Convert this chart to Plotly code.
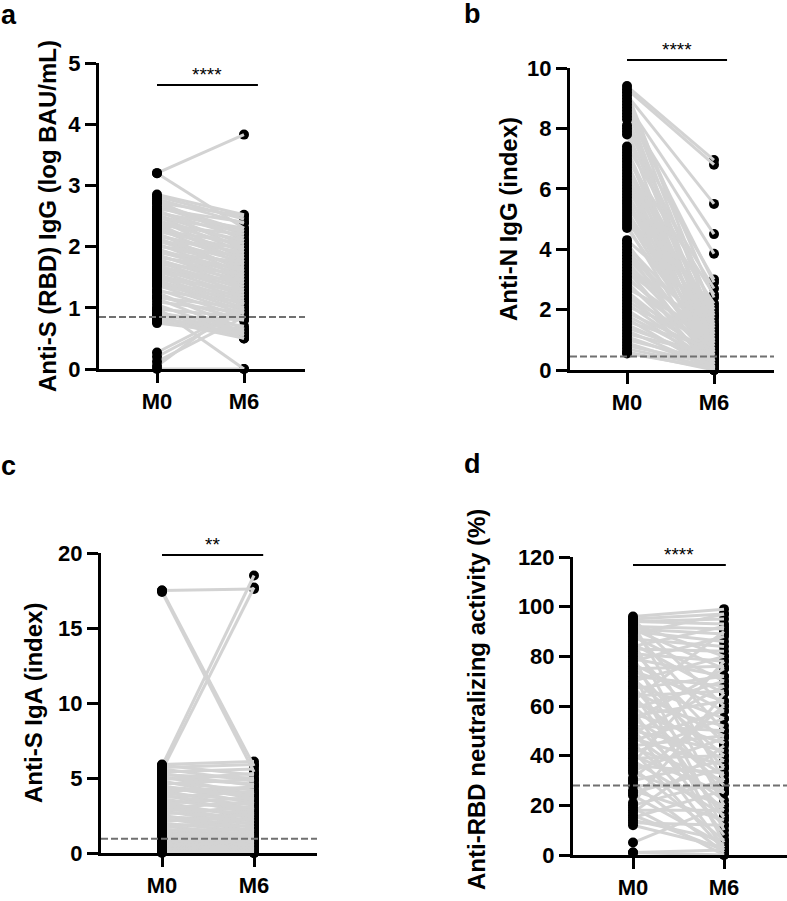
import plotly.graph_objects as go

W, H = 787, 901
FONT = "Liberation Sans, Arial, sans-serif"

categories = ["M0", "M6"]

# Panel a: Anti-S (RBD) IgG (log BAU/mL)
a_m0 = [3.2, 3.2, 2.85, 2.82, 2.78, 2.75, 2.72, 2.7, 2.66, 2.62, 2.6, 2.58, 2.55, 2.52, 2.5, 2.47, 2.45, 2.42, 2.4, 2.37,
        2.35, 2.32, 2.3, 2.27, 2.25, 2.22, 2.2, 2.17, 2.15, 2.12, 2.1, 2.07, 2.05, 2.02, 2.0, 1.97, 1.95, 1.92, 1.9, 1.87,
        1.85, 1.82, 1.8, 1.77, 1.75, 1.72, 1.7, 1.67, 1.65, 1.62, 1.6, 1.57, 1.55, 1.52, 1.5, 1.47, 1.45, 1.42, 1.4, 1.37,
        1.35, 1.3, 1.27, 1.25, 1.2, 1.17, 1.15, 1.1, 1.05, 1.0, 0.98, 0.95, 0.92, 0.9, 0.88, 0.85, 0.82, 0.8, 0.77, 0.75,
        0.27, 0.2, 0.12, 0.05, 0.0]
a_m6 = [3.83, 2.3, 2.52, 2.45, 2.38, 2.1, 2.5, 2.25, 2.2, 2.4, 1.95, 2.15, 2.3, 2.05, 1.9, 2.25, 1.8, 2.1, 2.0, 1.75,
        2.2, 1.85, 1.7, 2.05, 1.95, 1.6, 1.8, 1.9, 1.55, 1.75, 1.65, 2.0, 1.5, 1.7, 1.85, 1.45, 1.6, 1.55, 1.75, 1.4,
        1.5, 1.65, 1.35, 1.45, 1.3, 1.55, 1.25, 1.4, 1.2, 1.35, 1.15, 1.45, 1.1, 1.25, 1.05, 1.3, 1.0, 0.95, 1.2, 0.9,
        1.15, 0.85, 1.1, 0.65, 0.8, 1.0, 0.6, 0.92, 0.55, 0.0, 0.85, 0.5, 0.7, 0.62, 0.8, 0.55, 0.65, 0.5, 0.6, 0.58,
        1.0, 0.95, 0.85, 1.1, 0.0]

# Panel b: Anti-N IgG (index)
b_m0 = [9.4, 9.3, 9.2, 9.1, 9.0, 8.9, 8.8, 8.7, 8.6, 8.5, 8.4, 8.3, 8.1, 8.0, 7.9, 7.8, 7.4, 7.3, 7.2, 7.1,
        7.0, 6.9, 6.8, 6.7, 6.6, 6.5, 6.4, 6.3, 6.2, 6.1, 6.0, 5.9, 5.8, 5.7, 5.6, 5.5, 5.4, 5.3, 5.2, 5.1,
        5.0, 4.9, 4.8, 4.7, 4.3, 4.2, 4.1, 4.0, 3.9, 3.8, 3.7, 3.6, 3.5, 3.4, 3.3, 3.2, 3.1, 3.0, 2.9, 2.8,
        2.7, 2.6, 2.5, 2.4, 2.3, 2.2, 2.1, 2.0, 1.9, 1.8, 1.7, 1.6, 1.5, 1.4, 1.3, 1.2, 1.1, 1.0, 0.9, 0.8,
        0.7, 0.6, 0.55]
b_m6 = [6.95, 6.8, 1.8, 5.5, 2.4, 1.5, 4.5, 0.9, 2.9, 3.85, 1.2, 0.6, 2.0, 3.0, 1.4, 0.3, 2.7, 1.0, 0.5, 1.7,
        2.5, 0.2, 1.3, 0.8, 2.2, 0.4, 1.6, 0.1, 1.1, 0.7, 1.9, 0.3, 1.4, 0.05, 1.0, 0.6, 2.1, 0.2, 1.2, 0.9,
        0.4, 1.5, 0.0, 0.7, 1.8, 0.3, 1.1, 0.5, 0.1, 1.3, 0.8, 0.2, 1.0, 0.6, 0.0, 1.4, 0.4, 0.9, 0.1, 0.7,
        1.2, 0.3, 0.0, 0.8, 0.5, 0.2, 1.0, 0.1, 0.6, 0.3, 0.0, 0.7, 0.2, 0.4, 0.05, 0.5, 0.1, 0.3, 0.0, 0.2,
        0.1, 0.0, 0.05]

# Panel c: Anti-S IgA (index)
c_m0 = [17.5, 17.5, 17.4, 5.8, 5.5, 5.9, 5.85, 5.7, 5.6, 5.4, 5.3, 5.2, 5.1, 5.0, 4.9, 4.8, 4.7, 4.6, 4.5, 4.4,
        4.3, 4.2, 4.1, 4.0, 3.9, 3.8, 3.7, 3.6, 3.5, 3.4, 3.3, 3.2, 3.1, 3.0, 2.9, 2.8, 2.7, 2.6, 2.5, 2.4,
        2.3, 2.2, 2.1, 2.0, 1.9, 1.8, 1.7, 1.6, 1.5, 1.4, 1.35, 1.3, 1.25, 1.2, 1.15, 1.1, 1.05, 1.0, 0.95, 0.9,
        0.85, 0.8, 0.75, 0.7, 0.65, 0.6, 0.55, 0.5, 0.45, 0.4, 0.35, 0.3, 0.25, 0.2, 0.15, 0.1, 0.05, 0.0]
c_m6 = [17.6, 5.8, 5.4, 18.5, 17.7, 6.1, 5.2, 5.9, 4.8, 5.6, 4.5, 5.0, 3.9, 4.6, 5.3, 3.6, 4.2, 4.9, 3.3, 4.0,
        3.8, 2.9, 4.4, 3.5, 2.6, 3.2, 4.1, 2.8, 3.0, 2.3, 3.7, 2.5, 2.1, 3.4, 2.7, 1.9, 2.4, 3.1, 1.7, 2.2,
        1.5, 2.0, 2.6, 1.4, 1.8, 1.2, 2.3, 1.1, 1.6, 0.9, 1.3, 1.0, 0.7, 1.4, 0.8, 0.6, 1.1, 0.5, 0.85, 0.4,
        0.75, 0.3, 0.6, 0.25, 0.5, 0.2, 0.45, 0.15, 0.35, 0.1, 0.3, 0.05, 0.2, 0.0, 0.1, 0.05, 0.0, 0.0]

# Panel d: Anti-RBD neutralizing activity (%)
d_m0 = [96, 95, 95, 94, 94, 93, 93, 92, 91, 91, 90, 90, 89, 88, 87, 86, 85, 84, 83, 82,
        81, 80, 79, 78, 77, 76, 75, 74, 73, 72, 71, 70, 69, 68, 67, 66, 65, 64, 63, 62,
        61, 60, 59, 58, 57, 56, 55, 54, 53, 52, 51, 50, 49, 48, 47, 46, 45, 44, 43, 42,
        41, 40, 39, 38, 37, 36, 35, 34, 33, 31, 30, 29, 28, 26, 25, 24, 21, 20, 19, 18,
        17, 16, 15, 14, 13, 12, 5, 1, 1]
d_m6 = [99, 97, 60, 95, 93, 80, 30, 91, 75, 89, 50, 86, 97, 70, 84, 20, 65, 92, 82, 45,
        78, 10, 72, 88, 58, 35, 76, 62, 5, 68, 40, 80, 55, 25, 72, 48, 15, 66, 38, 90,
        52, 28, 70, 8, 45, 62, 32, 75, 18, 50, 3, 42, 68, 22, 36, 58, 12, 48, 30, 2,
        55, 25, 40, 16, 78, 33, 6, 47, 20, 60, 38, 1, 27, 14, 35, 4, 65, 30, 0, 18,
        44, 2, 26, 6, 12, 3, 20, 2, 0]

panels = [
    dict(m0=a_m0, m6=a_m6, ax="", title="Anti-S (RBD) IgG (log BAU/mL)", ymax=5, dtick=1, cutoff=0.85,
         left=99, right=305, p0=157, bottom=369, top=63, stars="****", bar_y=85, bar_x1=1.16,
         title_x=47, title_y=216, label="a", label_xy=(9, 15)),
    dict(m0=b_m0, m6=b_m6, ax="2", title="Anti-N IgG (index)", ymax=10, dtick=2, cutoff=0.45,
         left=570, right=774, p0=627, bottom=370, top=68, stars="****", bar_y=60, bar_x1=1.15,
         title_x=508, title_y=219, label="b", label_xy=(472, 14)),
    dict(m0=c_m0, m6=c_m6, ax="3", title="Anti-S IgA (index)", ymax=20, dtick=5, cutoff=0.95,
         left=101, right=317, p0=162, bottom=853, top=553, stars="**", bar_y=555, bar_x1=1.1,
         title_x=33, title_y=703, label="c", label_xy=(8, 466)),
    dict(m0=d_m0, m6=d_m6, ax="4", title="Anti-RBD neutralizing activity (%)", ymax=120, dtick=20, cutoff=28,
         left=573, right=787, p0=633, bottom=855, top=557, stars="****", bar_y=565, bar_x1=1.02,
         title_x=476, title_y=700, label="d", label_xy=(472, 464)),
]
spacing = {"": 87, "2": 87, "3": 92, "4": 91}

fig = go.Figure()
annotations = []
shapes = []
for p in panels:
    ax = p["ax"]
    xa, ya = "x" + ax, "y" + ax
    sp = spacing[ax]
    # M6 markers underneath the lines
    fig.add_trace(go.Scatter(x=[1] * len(p["m6"]), y=p["m6"], mode="markers", xaxis=xa, yaxis=ya,
                             marker=dict(color="black", size=10), cliponaxis=False, showlegend=False))
    lx, ly = [], []
    for v0, v6 in zip(p["m0"], p["m6"]):
        lx += [0, 1, None]
        ly += [v0, v6, None]
    fig.add_trace(go.Scatter(x=lx, y=ly, mode="lines", xaxis=xa, yaxis=ya,
                             line=dict(color="#d3d3d3", width=3), showlegend=False, hoverinfo="skip"))
    fig.add_trace(go.Scatter(x=[0] * len(p["m0"]), y=p["m0"], mode="markers", xaxis=xa, yaxis=ya,
                             marker=dict(color="black", size=10), cliponaxis=False, showlegend=False))

    xmin = -(p["p0"] - p["left"]) / sp
    xmax = (p["right"] - p["p0"]) / sp
    axis_common = dict(showline=True, linewidth=3, linecolor="black", ticks="outside", ticklen=11,
                       tickwidth=3, tickcolor="black", showgrid=False, zeroline=False, automargin=False,
                       tickfont=dict(family=FONT, size=22, color="black", weight="bold"))
    fig.layout["xaxis" + ax] = dict(domain=[p["left"] / W, min(p["right"] / W, 1.0)], range=[xmin, xmax],
                                    anchor=ya, tickvals=[0, 1], ticktext=categories, **axis_common)
    fig.layout["yaxis" + ax] = dict(domain=[1 - p["bottom"] / H, 1 - p["top"] / H], range=[0, p["ymax"]],
                                    anchor=xa, dtick=p["dtick"], **axis_common)

    # cutoff dashed line
    shapes.append(dict(type="line", xref=xa, yref=ya, x0=xmin, x1=xmax, y0=p["cutoff"], y1=p["cutoff"],
                       line=dict(color="#707070", width=2, dash="7px,3px"), layer="above"))
    # significance bar
    by = 1 - p["bar_y"] / H
    shapes.append(dict(type="line", xref=xa, yref="paper", x0=0, x1=p["bar_x1"], y0=by, y1=by,
                       line=dict(color="black", width=2)))
    annotations.append(dict(text=p["stars"], xref=xa, yref="paper", x=p["bar_x1"] / 2, y=by,
                            yanchor="bottom", yshift=-2, showarrow=False,
                            font=dict(family=FONT, size=19, color="black")))
    # axis title
    annotations.append(dict(text=p["title"], xref="paper", yref="paper", x=p["title_x"] / W,
                            y=1 - p["title_y"] / H, textangle=-90, showarrow=False,
                            xanchor="center", yanchor="middle",
                            font=dict(family=FONT, size=24, color="black", weight="bold")))
    # panel label
    lx0, ly0 = p["label_xy"]
    annotations.append(dict(text=p["label"], xref="paper", yref="paper", x=lx0 / W, y=1 - ly0 / H,
                            showarrow=False, xanchor="center", yanchor="middle",
                            font=dict(family=FONT, size=27, color="black", weight="bold")))

fig.update_layout(width=W, height=H, autosize=False, margin=dict(l=0, r=0, t=0, b=0, pad=0),
                  plot_bgcolor="white", paper_bgcolor="white", shapes=shapes, annotations=annotations,
                  showlegend=False)
fig.write_html("out.html", config={"displayModeBar": False},
               post_script="document.body.style.margin='0';document.body.style.overflow='hidden';")
